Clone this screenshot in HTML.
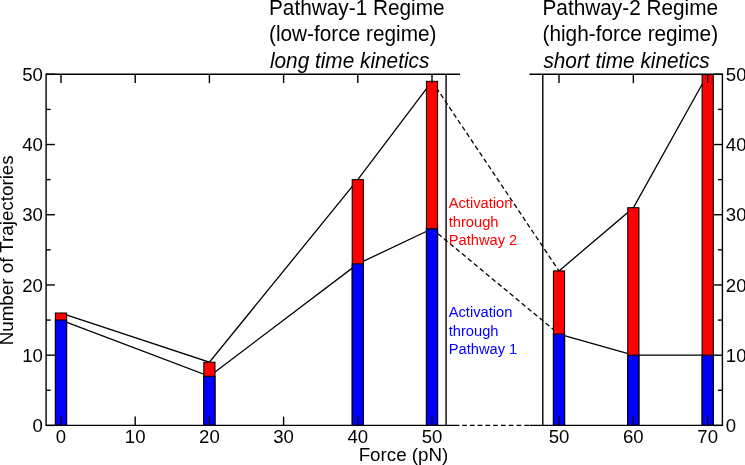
<!DOCTYPE html>
<html lang="en"><head><meta charset="utf-8"><title>Number of Trajectories vs Force</title>
<style>html,body{margin:0;padding:0;background:#fff}body{width:745px;height:465px;overflow:hidden}</style>
</head><body>
<svg width="745" height="465" viewBox="0 0 745 465" style="display:block;will-change:transform;font-family:'Liberation Sans',Arial,Helvetica,sans-serif">
<rect width="745" height="465" fill="#fff"/>
<defs><clipPath id="c"><rect x="0" y="74.3" width="745" height="351.1"/></clipPath></defs>
<g fill="none" stroke="#000" stroke-width="1.3" clip-path="url(#c)">
<polyline points="61.00,313.05 209.40,362.20 357.80,179.63 432.00,81.32"/><polyline points="61.00,320.07 209.40,376.25 357.80,263.89 432.00,228.78"/><polyline points="559.00,270.92 633.35,207.72 707.70,74.30"/><polyline points="559.00,334.11 633.35,355.18 707.70,355.18"/>
<line x1="432.00" y1="81.32" x2="559.00" y2="270.92" stroke-dasharray="4.75 3.02"/>
<line x1="432.00" y1="228.78" x2="559.00" y2="334.11" stroke-dasharray="4.75 3.02"/>
</g>
<g stroke="#000" stroke-width="1.05" clip-path="url(#c)">
<rect x="55.40" y="313.05" width="11.2" height="112.35" fill="#f00"/>
<rect x="55.40" y="320.07" width="11.2" height="105.33" fill="#00f"/>
<rect x="203.80" y="362.20" width="11.2" height="63.20" fill="#f00"/>
<rect x="203.80" y="376.25" width="11.2" height="49.15" fill="#00f"/>
<rect x="352.20" y="179.63" width="11.2" height="245.77" fill="#f00"/>
<rect x="352.20" y="263.89" width="11.2" height="161.51" fill="#00f"/>
<rect x="426.40" y="81.32" width="11.2" height="344.08" fill="#f00"/>
<rect x="426.40" y="228.78" width="11.2" height="196.62" fill="#00f"/>
<rect x="553.40" y="270.92" width="11.2" height="154.48" fill="#f00"/>
<rect x="553.40" y="334.11" width="11.2" height="91.29" fill="#00f"/>
<rect x="627.75" y="207.72" width="11.2" height="217.68" fill="#f00"/>
<rect x="627.75" y="355.18" width="11.2" height="70.22" fill="#00f"/>
<rect x="702.10" y="74.30" width="11.2" height="351.10" fill="#f00"/>
<rect x="702.10" y="355.18" width="11.2" height="70.22" fill="#00f"/>
</g>
<g fill="none" stroke="#000" stroke-width="1.4" stroke-linecap="butt">
<line x1="46.1" y1="73.6" x2="46.1" y2="426.1"/>
<line x1="446.1" y1="74.3" x2="446.1" y2="425.4"/>
<line x1="46.1" y1="74.3" x2="460" y2="74.3"/>
<line x1="46.1" y1="425.4" x2="459.4" y2="425.4"/>
<line x1="462.1" y1="425.4" x2="529.4" y2="425.4" stroke-dasharray="4.75 3.02"/>
<line x1="542.8" y1="74.3" x2="542.8" y2="425.4"/>
<line x1="722.4" y1="73.6" x2="722.4" y2="426.1"/>
<line x1="529.4" y1="74.3" x2="722.4" y2="74.3"/>
<line x1="529.4" y1="425.4" x2="722.4" y2="425.4"/>
<line x1="61.00" y1="74.3" x2="61.00" y2="83.1"/>
<line x1="61.00" y1="425.4" x2="61.00" y2="416.6"/>
<line x1="135.20" y1="74.3" x2="135.20" y2="83.1"/>
<line x1="135.20" y1="425.4" x2="135.20" y2="416.6"/>
<line x1="209.40" y1="74.3" x2="209.40" y2="83.1"/>
<line x1="209.40" y1="425.4" x2="209.40" y2="416.6"/>
<line x1="283.60" y1="74.3" x2="283.60" y2="83.1"/>
<line x1="283.60" y1="425.4" x2="283.60" y2="416.6"/>
<line x1="357.80" y1="74.3" x2="357.80" y2="83.1"/>
<line x1="357.80" y1="425.4" x2="357.80" y2="416.6"/>
<line x1="432.00" y1="74.3" x2="432.00" y2="83.1"/>
<line x1="432.00" y1="425.4" x2="432.00" y2="416.6"/>
<line x1="559.00" y1="74.3" x2="559.00" y2="83.1"/>
<line x1="559.00" y1="425.4" x2="559.00" y2="416.6"/>
<line x1="633.35" y1="74.3" x2="633.35" y2="83.1"/>
<line x1="633.35" y1="425.4" x2="633.35" y2="416.6"/>
<line x1="707.70" y1="74.3" x2="707.70" y2="83.1"/>
<line x1="707.70" y1="425.4" x2="707.70" y2="416.6"/>
<line x1="46.1" y1="425.40" x2="54.9" y2="425.40"/>
<line x1="722.4" y1="425.40" x2="713.6" y2="425.40"/>
<line x1="46.1" y1="390.29" x2="50.6" y2="390.29"/>
<line x1="722.4" y1="390.29" x2="717.9" y2="390.29"/>
<line x1="46.1" y1="355.18" x2="54.9" y2="355.18"/>
<line x1="722.4" y1="355.18" x2="713.6" y2="355.18"/>
<line x1="46.1" y1="320.07" x2="50.6" y2="320.07"/>
<line x1="722.4" y1="320.07" x2="717.9" y2="320.07"/>
<line x1="46.1" y1="284.96" x2="54.9" y2="284.96"/>
<line x1="722.4" y1="284.96" x2="713.6" y2="284.96"/>
<line x1="46.1" y1="249.85" x2="50.6" y2="249.85"/>
<line x1="722.4" y1="249.85" x2="717.9" y2="249.85"/>
<line x1="46.1" y1="214.74" x2="54.9" y2="214.74"/>
<line x1="722.4" y1="214.74" x2="713.6" y2="214.74"/>
<line x1="46.1" y1="179.63" x2="50.6" y2="179.63"/>
<line x1="722.4" y1="179.63" x2="717.9" y2="179.63"/>
<line x1="46.1" y1="144.52" x2="54.9" y2="144.52"/>
<line x1="722.4" y1="144.52" x2="713.6" y2="144.52"/>
<line x1="46.1" y1="109.41" x2="50.6" y2="109.41"/>
<line x1="722.4" y1="109.41" x2="717.9" y2="109.41"/>
<line x1="46.1" y1="74.30" x2="54.9" y2="74.30"/>
<line x1="722.4" y1="74.30" x2="713.6" y2="74.30"/>
</g>
<g font-size="18.6" fill="#000">
<text x="42.9" y="432.00" text-anchor="end">0</text>
<text x="725.8" y="432.00" text-anchor="start">0</text>
<text x="42.9" y="361.78" text-anchor="end">10</text>
<text x="725.8" y="361.78" text-anchor="start">10</text>
<text x="42.9" y="291.56" text-anchor="end">20</text>
<text x="725.8" y="291.56" text-anchor="start">20</text>
<text x="42.9" y="221.34" text-anchor="end">30</text>
<text x="725.8" y="221.34" text-anchor="start">30</text>
<text x="42.9" y="151.12" text-anchor="end">40</text>
<text x="725.8" y="151.12" text-anchor="start">40</text>
<text x="42.9" y="80.90" text-anchor="end">50</text>
<text x="725.8" y="80.90" text-anchor="start">50</text>
<text x="61.00" y="442.8" text-anchor="middle">0</text>
<text x="135.20" y="442.8" text-anchor="middle">10</text>
<text x="209.40" y="442.8" text-anchor="middle">20</text>
<text x="283.60" y="442.8" text-anchor="middle">30</text>
<text x="357.80" y="442.8" text-anchor="middle">40</text>
<text x="432.00" y="442.8" text-anchor="middle">50</text>
<text x="559.00" y="442.8" text-anchor="middle">50</text>
<text x="633.35" y="442.8" text-anchor="middle">60</text>
<text x="707.70" y="442.8" text-anchor="middle">70</text>
</g>
<text font-size="18.8" x="403.5" y="460.6" text-anchor="middle">Force (pN)</text>
<text font-size="18.8" transform="translate(12.8,250.3) rotate(-90)" text-anchor="middle">Number of Trajectories</text>
<g font-size="20.8">
<text transform="translate(269,14.6) scale(1,1.05)">Pathway-1 Regime</text>
<text transform="translate(269,40.8) scale(1,1.05)">(low-force regime)</text>
<text transform="translate(269.9,67.9) scale(1,1.05)" font-style="italic">long time kinetics</text>
<text transform="translate(542.5,14.6) scale(1,1.05)">Pathway-2 Regime</text>
<text transform="translate(542.5,40.8) scale(1,1.05)">(high-force regime)</text>
<text transform="translate(543.4,67.9) scale(1,1.05)" font-style="italic">short time kinetics</text>
</g>
<g font-size="14.7" fill="#f00">
<text x="448.7" y="208.40">Activation</text>
<text x="448.7" y="226.90">through</text>
<text x="448.7" y="245.40">Pathway 2</text>
</g>
<g font-size="14.7" fill="#00f">
<text x="448.7" y="317.00">Activation</text>
<text x="448.7" y="335.50">through</text>
<text x="448.7" y="354.00">Pathway 1</text>
</g>
</svg>
</body></html>
